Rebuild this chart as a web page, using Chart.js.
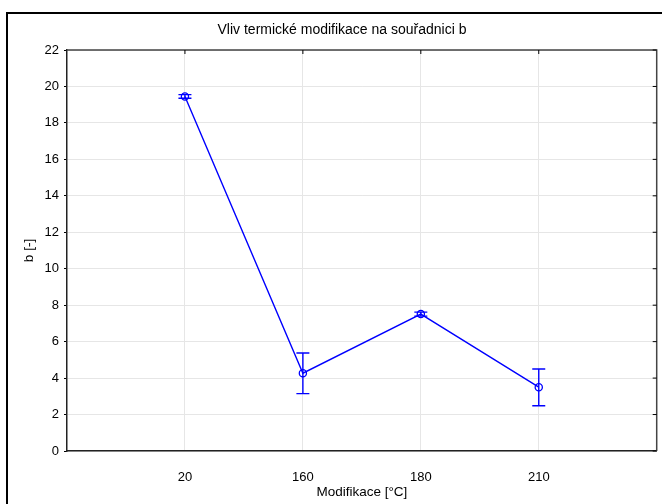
<!DOCTYPE html>
<html>
<head>
<meta charset="utf-8">
<script src="https://cdn.jsdelivr.net/npm/chart.js@4"></script>
<style>
  html, body { margin: 0; padding: 0; background: #fff; }
  #wrap { width: 662px; height: 504px; position: relative; }
</style>
</head>
<body>
<div id="wrap"><canvas id="chartB"></canvas></div>
<script>
// data
const categories = ['20', '160', '180', '210'];
const means = [19.45, 4.27, 7.51, 3.5];
const errLow = [19.35, 3.15, 7.4, 2.48];
const errHigh = [19.55, 5.38, 7.62, 4.5];
const yTicks = [0, 2, 4, 6, 8, 10, 12, 14, 16, 18, 20, 22];

const titleText = 'Vliv termické modifikace na souřadnici b';
const xTitle = 'Modifikace [°C]';
const yTitle = 'b [-]';

const BLUE = '#0000ff';
const FONT = '"Liberation Sans", Arial, sans-serif';

// points sit at 1..n on a linear axis running 0..n+1
const points = means.map((v, i) => ({ x: i + 1, y: v }));

// frame, title, box borders and inward ticks
const framePlugin = {
    id: 'frame',
    beforeDraw(chart) {
        const ctx = chart.ctx;
        ctx.save();
        ctx.fillStyle = '#fff';
        ctx.fillRect(0, 0, chart.width, chart.height);
        ctx.restore();
    },
    afterDraw(chart) {
        const ctx = chart.ctx;
        const a = chart.chartArea;
        const xs = chart.scales.x;
        const ys = chart.scales.y;
        ctx.save();
        // outer figure frame
        ctx.strokeStyle = '#000';
        ctx.lineWidth = 2;
        ctx.strokeRect(7, 13, 700, 600);
        // title
        ctx.fillStyle = '#000';
        ctx.font = '14px ' + FONT;
        ctx.textAlign = 'center';
        ctx.textBaseline = 'middle';
        ctx.fillText(titleText, 342, 30);
        // top + right borders of the plot box
        ctx.strokeStyle = '#444';
        ctx.lineWidth = 1.5;
        ctx.beginPath();
        ctx.moveTo(a.left, a.top);
        ctx.lineTo(a.right, a.top);
        ctx.lineTo(a.right, a.bottom);
        ctx.stroke();
        // inward ticks on top and right
        ctx.strokeStyle = '#000';
        ctx.lineWidth = 1;
        ctx.beginPath();
        categories.forEach((c, i) => {
            const px = xs.getPixelForValue(i + 1);
            ctx.moveTo(px, a.top);
            ctx.lineTo(px, a.top + 4);
        });
        yTicks.forEach(t => {
            const py = ys.getPixelForValue(t);
            ctx.moveTo(a.right, py);
            ctx.lineTo(a.right - 4, py);
        });
        ctx.stroke();
        ctx.restore();
    }
};

// error bars drawn through the scales
const errorBarPlugin = {
    id: 'errorBars',
    afterDatasetsDraw(chart) {
        const ctx = chart.ctx;
        const xs = chart.scales.x;
        const ys = chart.scales.y;
        ctx.save();
        ctx.strokeStyle = BLUE;
        ctx.lineWidth = 1.4;
        ctx.beginPath();
        means.forEach((m, i) => {
            const px = xs.getPixelForValue(i + 1);
            const lo = ys.getPixelForValue(errLow[i]);
            const hi = ys.getPixelForValue(errHigh[i]);
            ctx.moveTo(px, lo);
            ctx.lineTo(px, hi);
            ctx.moveTo(px - 6.5, lo);
            ctx.lineTo(px + 6.5, lo);
            ctx.moveTo(px - 6.5, hi);
            ctx.lineTo(px + 6.5, hi);
        });
        ctx.stroke();
        ctx.restore();
    }
};

Chart.defaults.font.family = FONT;
Chart.defaults.font.size = 13;
Chart.defaults.color = '#000';

new Chart(document.getElementById('chartB'), {
    type: 'line',
    data: {
        datasets: [{
            data: points,
            borderColor: BLUE,
            borderWidth: 1.4,
            pointStyle: 'circle',
            pointRadius: 3.6,
            pointBorderColor: BLUE,
            pointBorderWidth: 1.3,
            pointBackgroundColor: 'rgba(0,0,0,0)',
            fill: false,
            tension: 0,
        }],
    },
    options: {
        responsive: true,
        maintainAspectRatio: false,
        animation: false,
        layout: { padding: { left: 0, right: 5, top: 50, bottom: 0 } },
        plugins: {
            legend: { display: false },
            tooltip: { enabled: false },
        },
        scales: {
            x: {
                type: 'linear',
                min: 0,
                max: categories.length + 1,
                afterBuildTicks(scale) {
                    scale.ticks = categories.map((c, i) => ({ value: i + 1 }));
                },
                ticks: {
                    callback: (v) => categories[v - 1] || '',
                    padding: 19,
                    maxRotation: 0,
                    font: { size: 13 },
                },
                grid: {
                    color: '#e6e6e6',
                    drawTicks: false,
                },
                border: { color: '#222', width: 1.5 },
                title: {
                    display: true,
                    text: xTitle,
                    font: { size: 13.5 },
                    padding: { top: 6, bottom: 4 },
                },
                afterFit(scale) { scale.height = 53; },
            },
            y: {
                min: 0,
                max: 22,
                afterBuildTicks(scale) {
                    scale.ticks = yTicks.map(v => ({ value: v }));
                },
                ticks: {
                    padding: 5,
                    font: { size: 13 },
                },
                grid: {
                    color: '#e6e6e6',
                    tickColor: '#000',
                    tickLength: 3,
                },
                border: { color: '#222', width: 1.5 },
                title: {
                    display: true,
                    text: yTitle,
                    font: { size: 13.5 },
                    padding: { top: 21, bottom: 0 },
                },
                afterFit(scale) { scale.width = 67; },
            },
        },
    },
    plugins: [framePlugin, errorBarPlugin],
});
</script>
</body>
</html>
